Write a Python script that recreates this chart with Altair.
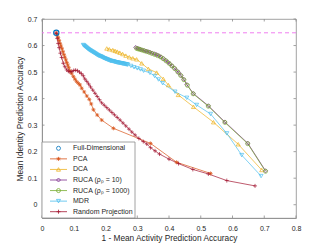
import altair as alt
import pandas as pd

# ---------------- data ----------------
full_x = [0.045]
full_y = [0.648]

pca_x = [0.045, 0.048, 0.051, 0.054, 0.057, 0.060, 0.063, 0.066, 0.069, 0.072, 0.075,
         0.078, 0.081, 0.084, 0.088, 0.093, 0.099, 0.104, 0.109, 0.115, 0.120, 0.125,
         0.133, 0.141, 0.149, 0.155, 0.162, 0.174, 0.188, 0.225, 0.342, 0.424, 0.531]
pca_y = [0.648, 0.640, 0.630, 0.619, 0.608, 0.598, 0.588, 0.577, 0.566, 0.556, 0.546,
         0.536, 0.527, 0.517, 0.505, 0.495, 0.483, 0.473, 0.464, 0.457, 0.451, 0.439,
         0.425, 0.410, 0.397, 0.380, 0.358, 0.338, 0.319, 0.288, 0.231, 0.160, 0.118]

dca_x = [0.204, 0.212, 0.223, 0.230, 0.237, 0.245, 0.254, 0.264, 0.275, 0.286, 0.298,
         0.314, 0.335, 0.361, 0.382, 0.398, 0.429, 0.477, 0.540, 0.618, 0.692]
dca_y = [0.589, 0.586, 0.583, 0.580, 0.577, 0.573, 0.568, 0.562, 0.556, 0.552, 0.548,
         0.533, 0.512, 0.498, 0.474, 0.451, 0.414, 0.369, 0.311, 0.228, 0.131]

r10_x = [0.295, 0.300, 0.305, 0.310, 0.316, 0.322, 0.328, 0.334, 0.340, 0.347, 0.354,
         0.361, 0.368, 0.375, 0.382, 0.389, 0.396, 0.403, 0.410, 0.417, 0.424, 0.431,
         0.438, 0.446, 0.456, 0.477, 0.524, 0.576, 0.648, 0.704]
r10_y = [0.593, 0.590, 0.588, 0.586, 0.583, 0.581, 0.579, 0.577, 0.575, 0.572, 0.569,
         0.566, 0.562, 0.557, 0.551, 0.545, 0.538, 0.531, 0.523, 0.515, 0.506, 0.497,
         0.487, 0.473, 0.453, 0.419, 0.373, 0.312, 0.232, 0.128]

r1000_x = [0.298, 0.303, 0.309, 0.315, 0.322, 0.330, 0.338, 0.346, 0.355, 0.364, 0.373,
           0.382, 0.391, 0.400, 0.409, 0.418, 0.428, 0.437, 0.447, 0.458, 0.476, 0.524,
           0.576, 0.648, 0.704]
r1000_y = [0.589, 0.587, 0.585, 0.583, 0.580, 0.577, 0.574, 0.570, 0.566, 0.562, 0.557,
           0.550, 0.542, 0.533, 0.523, 0.513, 0.500, 0.487, 0.471, 0.450, 0.418, 0.371,
           0.310, 0.230, 0.126]

mdr_x = [0.130, 0.132, 0.134, 0.136, 0.138, 0.140, 0.142, 0.144, 0.146, 0.148, 0.150,
         0.152, 0.154, 0.156, 0.158, 0.160, 0.162, 0.164, 0.166, 0.168, 0.170, 0.172,
         0.174, 0.176, 0.178, 0.180, 0.182, 0.184, 0.186, 0.188, 0.190, 0.192, 0.194,
         0.196, 0.198, 0.200, 0.202, 0.204, 0.206, 0.208, 0.210, 0.212, 0.214, 0.216,
         0.218, 0.220, 0.222, 0.224, 0.226, 0.228, 0.230, 0.232, 0.234, 0.236, 0.238,
         0.240, 0.242, 0.244, 0.246, 0.248, 0.250, 0.252, 0.254, 0.256, 0.258, 0.260,
         0.262, 0.264, 0.266, 0.268, 0.270,
         0.280, 0.290, 0.300, 0.310, 0.320, 0.340, 0.355, 0.367,
         0.380, 0.419, 0.456, 0.487, 0.531, 0.582, 0.629, 0.690]
mdr_y = [0.602, 0.600, 0.598, 0.596, 0.594, 0.592, 0.590, 0.588, 0.586, 0.584, 0.583,
         0.581, 0.580, 0.578, 0.577, 0.575, 0.574, 0.572, 0.571, 0.569, 0.568, 0.566,
         0.565, 0.563, 0.562, 0.561, 0.560, 0.559, 0.558, 0.557, 0.556, 0.554, 0.553,
         0.552, 0.551, 0.550, 0.549, 0.548, 0.547, 0.546, 0.545, 0.544, 0.543, 0.542,
         0.542, 0.541, 0.541, 0.540, 0.540, 0.539, 0.538, 0.537, 0.537, 0.536, 0.536,
         0.535, 0.535, 0.534, 0.534, 0.533, 0.533, 0.532, 0.532, 0.531, 0.531, 0.530,
         0.530, 0.529, 0.529, 0.528, 0.528,
         0.523, 0.518, 0.514, 0.510, 0.505, 0.497, 0.485, 0.472,
         0.458, 0.426, 0.403, 0.376, 0.342, 0.269, 0.187, 0.108]

rp_x = [0.045, 0.048, 0.051, 0.054, 0.058, 0.062, 0.067, 0.072, 0.078, 0.083, 0.088,
        0.094, 0.100, 0.106, 0.112, 0.118, 0.124, 0.130, 0.135, 0.141, 0.147, 0.153,
        0.160, 0.167, 0.174, 0.181, 0.188, 0.196, 0.204, 0.212, 0.220, 0.228, 0.237,
        0.246, 0.255, 0.264, 0.274, 0.283, 0.293, 0.305, 0.319, 0.330, 0.342, 0.356,
        0.370, 0.400, 0.430, 0.475, 0.524, 0.582, 0.671]
rp_y = [0.645, 0.627, 0.608, 0.592, 0.571, 0.555, 0.533, 0.520, 0.508, 0.503, 0.501,
        0.502, 0.506, 0.507, 0.505, 0.500, 0.494, 0.486, 0.474, 0.465, 0.455, 0.444,
        0.432, 0.420, 0.408, 0.396, 0.384, 0.375, 0.366, 0.357, 0.348, 0.339, 0.329,
        0.319, 0.308, 0.297, 0.285, 0.274, 0.263, 0.250, 0.238, 0.229, 0.215, 0.203,
        0.191, 0.172, 0.155, 0.133, 0.116, 0.091, 0.071]

series_names = ["Full-Dimensional", "PCA", "DCA", "RUCA (\u03c1\u209a = 10)",
                "RUCA (\u03c1\u209a = 1000)", "MDR", "Random Projection"]
series_colors = ["#0072BD", "#D95319", "#EDB120", "#7E2F8E", "#77AC30", "#4DBEEE", "#A2142F"]
series_x = [full_x, pca_x, dca_x, r10_x, r1000_x, mdr_x, rp_x]
series_y = [full_y, pca_y, dca_y, r10_y, r1000_y, mdr_y, rp_y]

x_ticks = [0, 0.1, 0.2, 0.3, 0.4, 0.5, 0.6, 0.7, 0.8]
y_ticks = [0, 0.1, 0.2, 0.3, 0.4, 0.5, 0.6, 0.7]

# ---------------- table ----------------
rows = []
for name, xs, ys in zip(series_names, series_x, series_y):
    assert len(xs) == len(ys), name
    for i, (a, b) in enumerate(zip(xs, ys)):
        rows.append({"series": name, "x": a, "y": b, "i": i})
df = pd.DataFrame(rows)

FONT = "Liberation Sans"
W, H = 254, 199
FRAME = "#8c8c8c"
TXT = "#262626"

xscale = alt.Scale(domain=[0, 0.8], nice=False, zero=False)
yscale = alt.Scale(domain=[-0.05, 0.7], nice=False, zero=False)
color_scale = alt.Scale(domain=series_names, range=series_colors)

plot_shapes = [
    "circle",
    "M-1,0H1M0,-1V1M-0.7,-0.7L0.7,0.7M-0.7,0.7L0.7,-0.7",
    "triangle-up",
    "diamond",
    "circle",
    "triangle-down",
    "M-1,0H1M0,-1V1",
]
shape_scale = alt.Scale(domain=series_names, range=plot_shapes)

fmt = "datum.value == 0 ? '0' : format(datum.value, '.1f')"
x_axis = alt.Axis(values=x_ticks, labelExpr=fmt, title="1 - Mean Activity Prediction Accuracy",
                  grid=False, ticks=False, tickSize=0, labelPadding=6, titlePadding=2,
                  labelFlush=False)
y_axis = alt.Axis(values=y_ticks, labelExpr=fmt, title="Mean Identity Prediction Accuracy",
                  grid=False, ticks=False, tickSize=0, labelPadding=5, titlePadding=3,
                  labelFlush=False)

XN = alt.X("x:Q", scale=xscale, axis=None)
YN = alt.Y("y:Q", scale=yscale, axis=None)

ref = alt.Chart(pd.DataFrame({"y": full_y})).mark_rule(
    color="#EE6FEE", strokeDash=[4, 3], strokeWidth=0.9
).encode(y=YN)

lines = alt.Chart(df).mark_line(strokeWidth=0.7).encode(
    x=alt.X("x:Q", scale=xscale, axis=x_axis),
    y=alt.Y("y:Q", scale=yscale, axis=y_axis),
    color=alt.Color("series:N", scale=color_scale, legend=None),
    order="i:Q",
)

points = alt.Chart(df).transform_filter(
    alt.datum.series != "Full-Dimensional"
).mark_point(filled=False, size=16, strokeWidth=0.7, opacity=1).encode(
    x=XN, y=YN,
    color=alt.Color("series:N", scale=color_scale, legend=None),
    shape=alt.Shape("series:N", scale=shape_scale, legend=None),
)

full = alt.Chart(pd.DataFrame({"x": full_x, "y": full_y})).mark_point(
    shape="circle", filled=False, size=28, strokeWidth=1.1, color="#0072BD", opacity=1
).encode(x=XN, y=YN)

xt = pd.DataFrame({"x": x_ticks})
yt = pd.DataFrame({"y": y_ticks})
tick_b = alt.Chart(xt).mark_rule(color=FRAME, strokeWidth=0.8).encode(
    x=XN, y=alt.value(H), y2=alt.value(H - 2.5))
tick_t = alt.Chart(xt).mark_rule(color=FRAME, strokeWidth=0.8).encode(
    x=XN, y=alt.value(0), y2=alt.value(2.5))
tick_l = alt.Chart(yt).mark_rule(color=FRAME, strokeWidth=0.8).encode(
    y=YN, x=alt.value(0), x2=alt.value(2.5))
tick_r = alt.Chart(yt).mark_rule(color=FRAME, strokeWidth=0.8).encode(
    y=YN, x=alt.value(W), x2=alt.value(W - 2.5))

# ---------------- legend (drawn as marks, MATLAB style) ----------------
LEG_W, LEG_TOP = 93, 123
leg_df = pd.DataFrame({"series": series_names})
leg_y = alt.Y("series:N", axis=None,
              scale=alt.Scale(type="point", domain=series_names,
                              range=[LEG_TOP + 6.3, H - 6.3], padding=0))

leg_box = alt.Chart(pd.DataFrame({"a": [0]})).mark_rect(
    fill="white", stroke=FRAME, strokeWidth=0.8
).encode(x=alt.value(0), x2=alt.value(LEG_W), y=alt.value(LEG_TOP), y2=alt.value(H))

leg_line = alt.Chart(leg_df).transform_filter(
    alt.datum.series != "Full-Dimensional"
).mark_rule(strokeWidth=0.8).encode(
    x=alt.value(8), x2=alt.value(25), y=leg_y,
    color=alt.Color("series:N", scale=color_scale, legend=None),
)

leg_mark = alt.Chart(leg_df).mark_point(filled=False, size=16, strokeWidth=0.8, opacity=1).encode(
    x=alt.value(16.5), y=leg_y,
    color=alt.Color("series:N", scale=color_scale, legend=None),
    shape=alt.Shape("series:N", scale=shape_scale, legend=None),
)

leg_text = alt.Chart(leg_df).mark_text(
    align="left", baseline="middle", font=FONT, fontSize=7, color=TXT
).encode(x=alt.value(31), y=leg_y, text="series:N")

chart = alt.layer(
    ref, lines, points, full, tick_b, tick_t, tick_l, tick_r,
    leg_box, leg_line, leg_mark, leg_text,
).resolve_scale(y="independent").resolve_axis(x="independent", y="independent").properties(
    width=W, height=H,
    autosize=alt.AutoSizeParams(type="none"),
    padding={"left": 34, "top": 11, "right": 20, "bottom": 25},
    background="white",
).configure_view(
    stroke=FRAME, strokeWidth=0.8
).configure_axis(
    labelFont=FONT, titleFont=FONT, labelFontSize=7, titleFontSize=8.3,
    labelColor=TXT, titleColor=TXT, titleFontWeight="normal",
    domainColor=FRAME, domainWidth=0.8,
)

chart.save("out.html", embed_options={"renderer": "svg", "actions": False})
